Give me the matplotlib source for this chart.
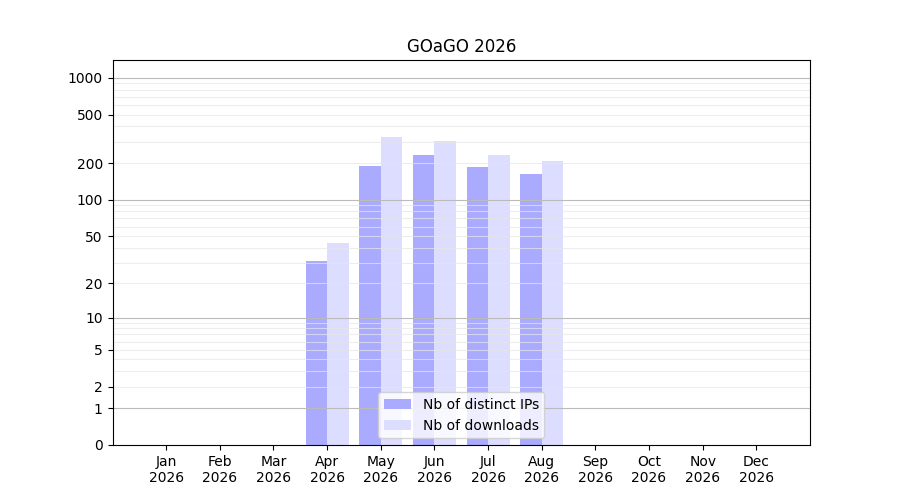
import matplotlib
matplotlib.use('Agg')
import matplotlib.pyplot as plt
import numpy as np

months = ['Jan', 'Feb', 'Mar', 'Apr', 'May', 'Jun', 'Jul', 'Aug', 'Sep', 'Oct', 'Nov', 'Dec']
year = '2026'
ips = [0, 0, 0, 31, 190, 232, 186, 163, 0, 0, 0, 0]
downloads = [0, 0, 0, 44, 330, 305, 234, 209, 0, 0, 0, 0]
ytick_vals = [0, 1, 2, 5, 10, 20, 50, 100, 200, 500, 1000]

fig, ax = plt.subplots(figsize=(9, 5), dpi=100)
ax.set_yscale('function', functions=(lambda v: np.log10(1 + np.clip(v, 0, None)),
                                     lambda v: 10 ** v - 1))

x = np.arange(len(months))
ax.bar(x - 0.2, ips, width=0.4, color='#aaaaff', label='Nb of distinct IPs', zorder=1)
ax.bar(x + 0.2, downloads, width=0.4, color='#ddddff', label='Nb of downloads', zorder=1)

# grid: decades darker, in-between lighter, drawn over the bars
for d in [1, 10, 100, 1000]:
    ax.axhline(d, color='#bbbbbb', lw=0.8, zorder=2)
    for k in range(2, 10):
        if d * k < 1400:
            ax.axhline(d * k, color='#e6e6e6', lw=0.8, zorder=2, alpha=0.7)

ax.set_yticks(ytick_vals)
ax.set_yticklabels([str(v) for v in ytick_vals])
ax.minorticks_off()
ax.set_ylim(0, 1400)
ax.set_xlim(-1, 12)
ax.set_xticks(x)
ax.set_xticklabels([m + '\n' + year for m in months])
ax.set_title('GOaGO 2026')
ax.legend(loc='lower center')

fig.savefig('out.png', dpi=100)
